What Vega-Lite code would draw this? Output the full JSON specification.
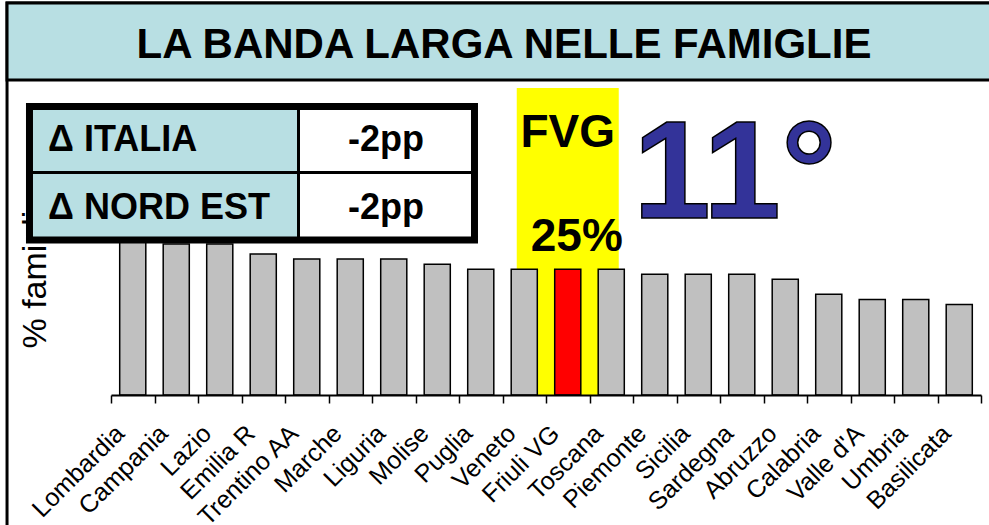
{
  "$schema": "https://vega.github.io/schema/vega-lite/v6.json",
  "width": 870,
  "height": 307,
  "autosize": {"type": "none"},
  "padding": {"left": 111, "top": 88, "right": 8, "bottom": 130},
  "background": "white",
  "config": {"view": {"stroke": null}, "font": "Liberation Sans"},
  "resolve": {"scale": {"x": "independent", "y": "independent"}, "axis": {"x": "independent", "y": "independent"}},
  "layer": [
    {
      "data": {"values": [
        {"region": "Lombardia", "pct": 31},
        {"region": "Campania", "pct": 30},
        {"region": "Lazio", "pct": 30},
        {"region": "Emilia R", "pct": 28},
        {"region": "Trentino AA", "pct": 27},
        {"region": "Marche", "pct": 27},
        {"region": "Liguria", "pct": 27},
        {"region": "Molise", "pct": 26},
        {"region": "Puglia", "pct": 25},
        {"region": "Veneto", "pct": 25},
        {"region": "Friuli VG", "pct": 25},
        {"region": "Toscana", "pct": 25},
        {"region": "Piemonte", "pct": 24},
        {"region": "Sicilia", "pct": 24},
        {"region": "Sardegna", "pct": 24},
        {"region": "Abruzzo", "pct": 23},
        {"region": "Calabria", "pct": 20},
        {"region": "Valle d'A", "pct": 19},
        {"region": "Umbria", "pct": 19},
        {"region": "Basilicata", "pct": 18}
      ]},
      "layer": [
        {
          "transform": [{"filter": "datum.region === 'Friuli VG'"}],
          "mark": {"type": "bar", "color": "#FFFF00", "width": {"band": 2.345}},
          "encoding": {
            "x": {"field": "region", "type": "nominal", "sort": null,
                  "scale": {"domain": ["Lombardia","Campania","Lazio","Emilia R","Trentino AA","Marche","Liguria","Molise","Puglia","Veneto","Friuli VG","Toscana","Piemonte","Sicilia","Sardegna","Abruzzo","Calabria","Valle d'A","Umbria","Basilicata"], "paddingInner": 0, "paddingOuter": 0}},
            "y": {"datum": 0, "type": "quantitative", "scale": {"domain": [0, 61], "nice": false}},
            "y2": {"datum": 61}
          }
        },
        {
          "mark": {"type": "bar", "stroke": "black", "strokeWidth": 1.5, "width": {"band": 0.6}},
          "encoding": {
            "x": {"field": "region", "type": "nominal", "sort": null,
                  "scale": {"domain": ["Lombardia","Campania","Lazio","Emilia R","Trentino AA","Marche","Liguria","Molise","Puglia","Veneto","Friuli VG","Toscana","Piemonte","Sicilia","Sardegna","Abruzzo","Calabria","Valle d'A","Umbria","Basilicata"], "paddingInner": 0, "paddingOuter": 0},
                  "axis": {"title": null, "labelAngle": -45, "labelAlign": "right", "labelBaseline": "middle", "labelFontSize": 25, "labelFont": "Liberation Sans", "labelColor": "black", "labelPadding": 26, "labelOffset": -13, "labelOverlap": false, "labelBound": false, "labelLimit": 0, "tickBand": "extent", "tickSize": 8, "tickColor": "black", "tickWidth": 1.5, "domainColor": "black", "domainWidth": 2, "grid": false, "zindex": 1}},
            "y": {"field": "pct", "type": "quantitative", "scale": {"domain": [0, 61], "nice": false},
                  "axis": {"title": "% famiglie", "domain": false, "ticks": false, "labels": false, "grid": false, "titleFontSize": 34, "titleFont": "Liberation Sans", "titleFontWeight": "normal", "titleColor": "black", "titleAngle": 270, "titleAlign": "left", "titleBaseline": "alphabetic", "titleX": -66, "titleY": 260, "zindex": 0}},
            "color": {"condition": {"test": "datum.region === 'Friuli VG'", "value": "#FF0000"}, "value": "#C0C0C0"}
          }
        },
        {
          "transform": [{"filter": "datum.region === 'Friuli VG'"}],
          "mark": {"type": "text", "font": "Liberation Sans", "fontWeight": "bold", "fontSize": 46, "align": "center", "baseline": "alphabetic", "color": "black"},
          "encoding": {
            "x": {"field": "region", "type": "nominal", "sort": null,
                  "scale": {"domain": ["Lombardia","Campania","Lazio","Emilia R","Trentino AA","Marche","Liguria","Molise","Puglia","Veneto","Friuli VG","Toscana","Piemonte","Sicilia","Sardegna","Abruzzo","Calabria","Valle d'A","Umbria","Basilicata"], "paddingInner": 0, "paddingOuter": 0}},
            "y": {"datum": 49.28, "type": "quantitative", "scale": {"domain": [0, 61], "nice": false}},
            "text": {"value": "FVG"}
          }
        },
        {
          "transform": [{"filter": "datum.region === 'Friuli VG'"}],
          "mark": {"type": "text", "font": "Liberation Sans", "fontWeight": "bold", "fontSize": 46, "align": "center", "baseline": "alphabetic", "color": "black", "dx": 9},
          "encoding": {
            "x": {"field": "region", "type": "nominal", "sort": null,
                  "scale": {"domain": ["Lombardia","Campania","Lazio","Emilia R","Trentino AA","Marche","Liguria","Molise","Puglia","Veneto","Friuli VG","Toscana","Piemonte","Sicilia","Sardegna","Abruzzo","Calabria","Valle d'A","Umbria","Basilicata"], "paddingInner": 0, "paddingOuter": 0}},
            "y": {"datum": 28.61, "type": "quantitative", "scale": {"domain": [0, 61], "nice": false}},
            "text": {"value": "25%"}
          }
        }
      ]
    },
    {
      "data": {"values": [{}]},
      "layer": [
        {
          "mark": {"type": "rect", "filled": false, "color": "black", "strokeWidth": 3},
          "encoding": {
            "x": {"datum": -11.95, "type": "quantitative", "scale": {"domain": [0, 100], "nice": false}, "axis": null},
            "x2": {"datum": 101.61},
            "y": {"datum": 77.89, "type": "quantitative", "scale": {"domain": [0, 61], "nice": false}, "axis": null},
            "y2": {"datum": -26.82}
          }
        },
        {
          "mark": {"type": "rect", "fill": "#B8DFE3", "stroke": "black", "strokeWidth": 3},
          "encoding": {
            "x": {"datum": -11.95, "type": "quantitative", "scale": {"domain": [0, 100], "nice": false}, "axis": null},
            "x2": {"datum": 101.61},
            "y": {"datum": 77.89, "type": "quantitative", "scale": {"domain": [0, 61], "nice": false}, "axis": null},
            "y2": {"datum": 62.59}
          }
        },
        {
          "mark": {"type": "text", "font": "Liberation Sans", "fontWeight": "bold", "fontSize": 42, "align": "center", "baseline": "alphabetic", "color": "black"},
          "encoding": {
            "x": {"datum": 45.17, "type": "quantitative", "scale": {"domain": [0, 100], "nice": false}, "axis": null},
            "y": {"datum": 66.96, "type": "quantitative", "scale": {"domain": [0, 61], "nice": false}, "axis": null},
            "text": {"value": "LA BANDA LARGA NELLE FAMIGLIE"}
          }
        },
        {
          "mark": {"type": "text", "font": "Liberation Sans", "fontWeight": "bold", "fontSize": 140, "align": "center", "baseline": "alphabetic", "fill": "#333399", "stroke": "black", "strokeWidth": 1.5},
          "encoding": {
            "x": {"datum": 71.72, "type": "quantitative", "scale": {"domain": [0, 100], "nice": false}, "axis": null},
            "y": {"datum": 35.17, "type": "quantitative", "scale": {"domain": [0, 61], "nice": false}, "axis": null},
            "text": {"value": "11°"}
          }
        },
        {
          "mark": {"type": "rect", "fill": "#B8DFE3"},
          "encoding": {
            "x": {"datum": -9.37, "type": "quantitative", "scale": {"domain": [0, 100], "nice": false}, "axis": null},
            "x2": {"datum": 21.55},
            "y": {"datum": 57.32, "type": "quantitative", "scale": {"domain": [0, 61], "nice": false}, "axis": null},
            "y2": {"datum": 30.80}
          }
        },
        {
          "mark": {"type": "rect", "fill": "white"},
          "encoding": {
            "x": {"datum": 21.55, "type": "quantitative", "scale": {"domain": [0, 100], "nice": false}, "axis": null},
            "x2": {"datum": 41.78},
            "y": {"datum": 57.32, "type": "quantitative", "scale": {"domain": [0, 61], "nice": false}, "axis": null},
            "y2": {"datum": 30.80}
          }
        },
        {
          "mark": {"type": "rect", "filled": false, "color": "black", "strokeWidth": 7},
          "encoding": {
            "x": {"datum": -9.37, "type": "quantitative", "scale": {"domain": [0, 100], "nice": false}, "axis": null},
            "x2": {"datum": 41.78},
            "y": {"datum": 57.32, "type": "quantitative", "scale": {"domain": [0, 61], "nice": false}, "axis": null},
            "y2": {"datum": 30.80}
          }
        },
        {
          "mark": {"type": "rule", "color": "black", "strokeWidth": 3},
          "encoding": {
            "x": {"datum": 21.55, "type": "quantitative", "scale": {"domain": [0, 100], "nice": false}, "axis": null},
            "y": {"datum": 57.32, "type": "quantitative", "scale": {"domain": [0, 61], "nice": false}, "axis": null},
            "y2": {"datum": 30.80}
          }
        },
        {
          "mark": {"type": "rule", "color": "black", "strokeWidth": 3},
          "encoding": {
            "x": {"datum": -9.37, "type": "quantitative", "scale": {"domain": [0, 100], "nice": false}, "axis": null},
            "x2": {"datum": 41.78},
            "y": {"datum": 44.21, "type": "quantitative", "scale": {"domain": [0, 61], "nice": false}, "axis": null}
          }
        },
        {
          "mark": {"type": "text", "font": "Liberation Sans", "fontWeight": "bold", "fontSize": 36, "align": "left", "baseline": "alphabetic", "color": "black"},
          "encoding": {
            "x": {"datum": -7.24, "type": "quantitative", "scale": {"domain": [0, 100], "nice": false}, "axis": null},
            "y": {"datum": 48.48, "type": "quantitative", "scale": {"domain": [0, 61], "nice": false}, "axis": null},
            "text": {"value": "Δ ITALIA"}
          }
        },
        {
          "mark": {"type": "text", "font": "Liberation Sans", "fontWeight": "bold", "fontSize": 36, "align": "left", "baseline": "alphabetic", "color": "black"},
          "encoding": {
            "x": {"datum": -7.24, "type": "quantitative", "scale": {"domain": [0, 100], "nice": false}, "axis": null},
            "y": {"datum": 34.97, "type": "quantitative", "scale": {"domain": [0, 61], "nice": false}, "axis": null},
            "text": {"value": "Δ NORD EST"}
          }
        },
        {
          "mark": {"type": "text", "font": "Liberation Sans", "fontWeight": "bold", "fontSize": 36, "align": "center", "baseline": "alphabetic", "color": "black"},
          "encoding": {
            "x": {"datum": 31.61, "type": "quantitative", "scale": {"domain": [0, 100], "nice": false}, "axis": null},
            "y": {"datum": 48.48, "type": "quantitative", "scale": {"domain": [0, 61], "nice": false}, "axis": null},
            "text": {"value": "-2pp"}
          }
        },
        {
          "mark": {"type": "text", "font": "Liberation Sans", "fontWeight": "bold", "fontSize": 36, "align": "center", "baseline": "alphabetic", "color": "black"},
          "encoding": {
            "x": {"datum": 31.61, "type": "quantitative", "scale": {"domain": [0, 100], "nice": false}, "axis": null},
            "y": {"datum": 34.97, "type": "quantitative", "scale": {"domain": [0, 61], "nice": false}, "axis": null},
            "text": {"value": "-2pp"}
          }
        }
      ]
    }
  ]
}
